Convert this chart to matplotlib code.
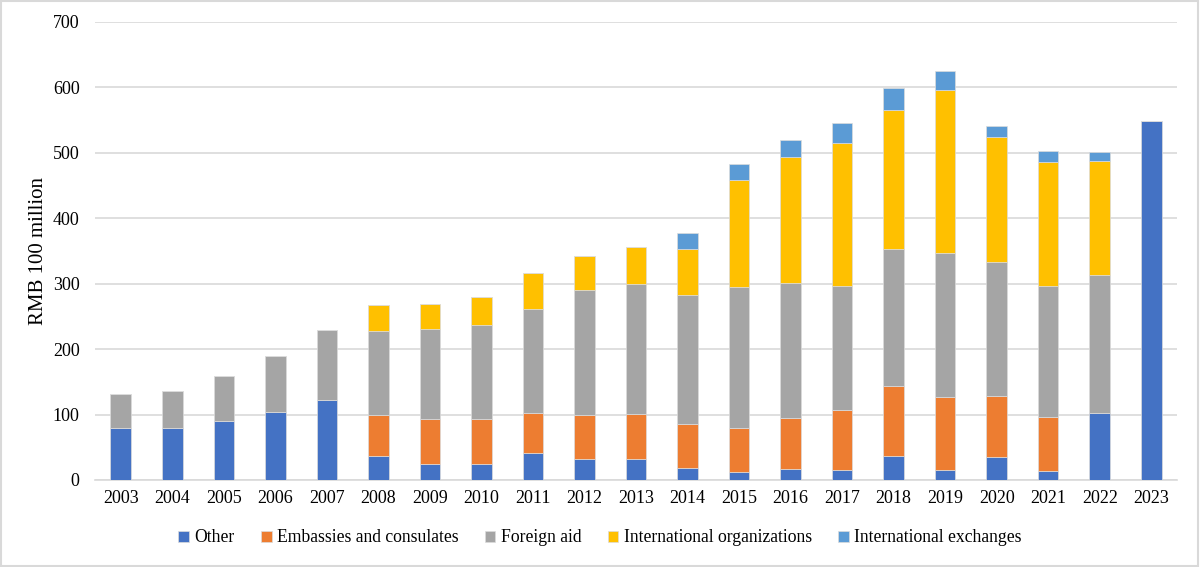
import matplotlib
matplotlib.use("Agg")
import matplotlib.pyplot as plt
import numpy as np
from matplotlib.patches import Rectangle

years = [str(y) for y in range(2003, 2024)]
other = [80, 80, 90, 104, 122, 37, 25, 24, 41, 32, 32, 18, 12, 17, 15, 37, 15, 35, 14, 103, 548]
embassies = [0, 0, 0, 0, 0, 62.5, 68, 69, 61, 67.5, 69, 68, 68, 78, 92.5, 107, 112, 94, 82, 0, 0]
foreign_aid = [51, 56, 69, 86, 107, 128.5, 138, 144, 159, 191.5, 199, 197, 215, 206.5, 189, 208.8, 220, 204.7, 200.5, 210, 0]
intl_orgs = [0, 0, 0, 0, 0, 40, 38, 43, 55, 51.5, 56, 70, 164, 192.5, 218.5, 213, 249.5, 191, 190, 175, 0]
intl_exch = [0, 0, 0, 0, 0, 0, 0, 0, 0, 0, 0, 24, 24, 25, 30, 34, 29, 17, 16.5, 14, 0]

series = [
    ("Other", other, "#4472C4"),
    ("Embassies and consulates", embassies, "#ED7D31"),
    ("Foreign aid", foreign_aid, "#A5A5A5"),
    ("International organizations", intl_orgs, "#FFC000"),
    ("International exchanges", intl_exch, "#5B9BD5"),
]

plt.rcParams['font.family'] = ['Liberation Serif', 'DejaVu Serif']

fig = plt.figure(figsize=(12, 5.67), dpi=100)
ax = fig.add_axes([95/1200, 1 - 480/567, (1177-95)/1200, (480-22)/567])

x = np.arange(len(years))
bottom = np.zeros(len(years))
for name, vals, col in series:
    v = np.array(vals, dtype=float)
    ax.bar(x, v, 0.4, bottom=bottom, color=col, label=name,
           edgecolor='#dcdcdc', linewidth=0.5, zorder=3)
    bottom += v

ax.set_xlim(-0.5, len(years) - 0.5)
ax.set_ylim(0, 700)
ax.set_yticks(range(0, 701, 100))
ax.set_xticks(x)
ax.set_xticklabels(years)
ax.tick_params(axis='both', length=0, labelsize=13, colors='black')
ax.tick_params(axis='y', pad=11)
ax.tick_params(axis='x', pad=7)
ax.grid(axis='y', color='#d9d9d9', linewidth=1.2, zorder=0)
for s in ['top', 'right', 'left']:
    ax.spines[s].set_visible(False)
ax.spines['bottom'].set_color('#d9d9d9')
ax.spines['bottom'].set_linewidth(1.2)
ax.set_ylabel("RMB 100 million", fontsize=15)
ax.yaxis.set_label_coords((48 - 95) / 1082, 0.5)

leg = fig.legend(loc='center', bbox_to_anchor=(0.5, 1 - 538/567), ncol=5,
                 frameon=False, fontsize=12.7, handlelength=0.6, handleheight=0.6,
                 handletextpad=0.3, columnspacing=1.5)

fig.patches.append(Rectangle((0.001, 0.001), 0.997, 0.997, transform=fig.transFigure,
                             fill=False, edgecolor='#d9d9d9', linewidth=1.5))

fig.savefig("out.png", dpi=100)
